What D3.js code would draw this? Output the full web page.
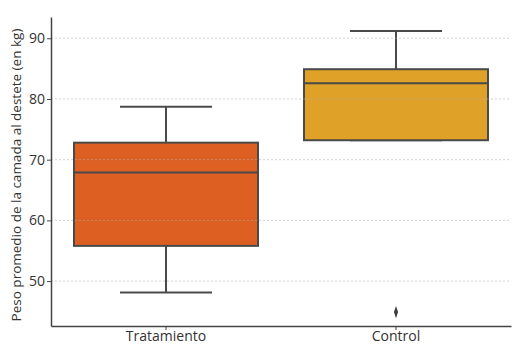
<!DOCTYPE html>
<html lang="es">
<head>
<meta charset="UTF-8">
<script src="https://d3js.org/d3.v7.min.js"></script>
<style>
  body { margin: 0; background: #fff; font-family: "Open Sans", sans-serif; }
</style>
</head>
<body>
<div id="chart"></div>
<script>
// Datos
const grupos = ["Tratamiento", "Control"];
const q1 = [55.8, 73.2];
const mediana = [67.9, 82.6];
const q3 = [72.8, 84.9];
const bigoteInf = [48.1, 73.2];
const bigoteSup = [78.7, 91.2];
const atipicos = [[], [44.9]];
const colores = ["#DD5F22", "#DFA128"];
const yTicks = [50, 60, 70, 80, 90];

const W = 532, H = 354;
const margin = {top: 17, right: 21, bottom: 28, left: 51};
const width = W - margin.left - margin.right,
      height = H - margin.top - margin.bottom;

const svg = d3.select("#chart").append("svg")
    .attr("width", W).attr("height", H);
const g = svg.append("g")
    .attr("transform", `translate(${margin.left},${margin.top})`);

const x = d3.scaleBand().domain(grupos).range([0, width])
    .paddingInner(0.2).paddingOuter(0.1);
const y = d3.scaleLinear().domain([42.6, 93.5]).range([height, 0]);

const data = grupos.map((k, i) => ({
  k, i, q1: q1[i], med: mediana[i], q3: q3[i],
  lo: bigoteInf[i], hi: bigoteSup[i], out: atipicos[i]
}));

const lineCol = "#4a4a4a";
const bw = x.bandwidth();

// cajas
const box = g.selectAll(".box").data(data).enter().append("g");
box.append("line")
    .attr("x1", d => x(d.k) + bw / 2).attr("x2", d => x(d.k) + bw / 2)
    .attr("y1", d => y(d.hi)).attr("y2", d => y(d.q3))
    .attr("stroke", lineCol).attr("stroke-width", 2);
box.append("line")
    .attr("x1", d => x(d.k) + bw / 2).attr("x2", d => x(d.k) + bw / 2)
    .attr("y1", d => y(d.q1)).attr("y2", d => y(d.lo))
    .attr("stroke", lineCol).attr("stroke-width", 2);
box.append("line")
    .attr("x1", d => x(d.k) + bw / 4).attr("x2", d => x(d.k) + bw * 3 / 4)
    .attr("y1", d => y(d.hi)).attr("y2", d => y(d.hi))
    .attr("stroke", lineCol).attr("stroke-width", 2);
box.append("line")
    .attr("x1", d => x(d.k) + bw / 4).attr("x2", d => x(d.k) + bw * 3 / 4)
    .attr("y1", d => y(d.lo)).attr("y2", d => y(d.lo))
    .attr("stroke", lineCol).attr("stroke-width", 2);
box.append("rect")
    .attr("x", d => x(d.k)).attr("width", bw)
    .attr("y", d => y(d.q3)).attr("height", d => y(d.q1) - y(d.q3))
    .attr("fill", d => colores[d.i])
    .attr("stroke", lineCol).attr("stroke-width", 2);
box.append("line")
    .attr("x1", d => x(d.k)).attr("x2", d => x(d.k) + bw)
    .attr("y1", d => y(d.med)).attr("y2", d => y(d.med))
    .attr("stroke", lineCol).attr("stroke-width", 2);

// atipicos (rombos)
data.forEach(d => {
  d.out.forEach(v => {
    g.append("path")
      .attr("d", d3.symbol(d3.symbolDiamond, 30)())
      .attr("transform", `translate(${x(d.k) + bw / 2},${y(v)}) scale(0.7,1.2)`)
      .attr("fill", "#3d3d3d");
  });
});

// rejilla
g.selectAll(".grid").data(yTicks).enter().append("line")
    .attr("x1", 0).attr("x2", width)
    .attr("y1", d => y(d)).attr("y2", d => y(d))
    .attr("stroke", "#b0b0b0").attr("stroke-opacity", 0.7)
    .attr("stroke-width", 0.8).attr("stroke-dasharray", "2,2");

// ejes
const yAxis = g.append("g")
    .call(d3.axisLeft(y).tickValues(yTicks).tickSize(4).tickSizeOuter(0));
const xAxis = g.append("g").attr("transform", `translate(0,${height})`)
    .call(d3.axisBottom(x).tickSize(4).tickSizeOuter(0));
[yAxis, xAxis].forEach(a => {
  a.select(".domain").attr("stroke", "#444").attr("stroke-width", 1.5);
  a.selectAll(".tick line").attr("stroke", "#444");
  a.selectAll("text").attr("fill", "#333")
    .style("font-family", "'Open Sans', sans-serif").style("font-size", "14px");
});
yAxis.selectAll("text").attr("x", -6);
xAxis.selectAll("text").attr("y", 5);

svg.append("text")
    .attr("transform", `translate(21,175) rotate(-90)`)
    .attr("text-anchor", "middle")
    .style("font-family", "'Open Sans', sans-serif").style("font-size", "13.5px")
    .attr("fill", "#333")
    .text("Peso promedio de la camada al destete (en kg)");
</script>
</body>
</html>
